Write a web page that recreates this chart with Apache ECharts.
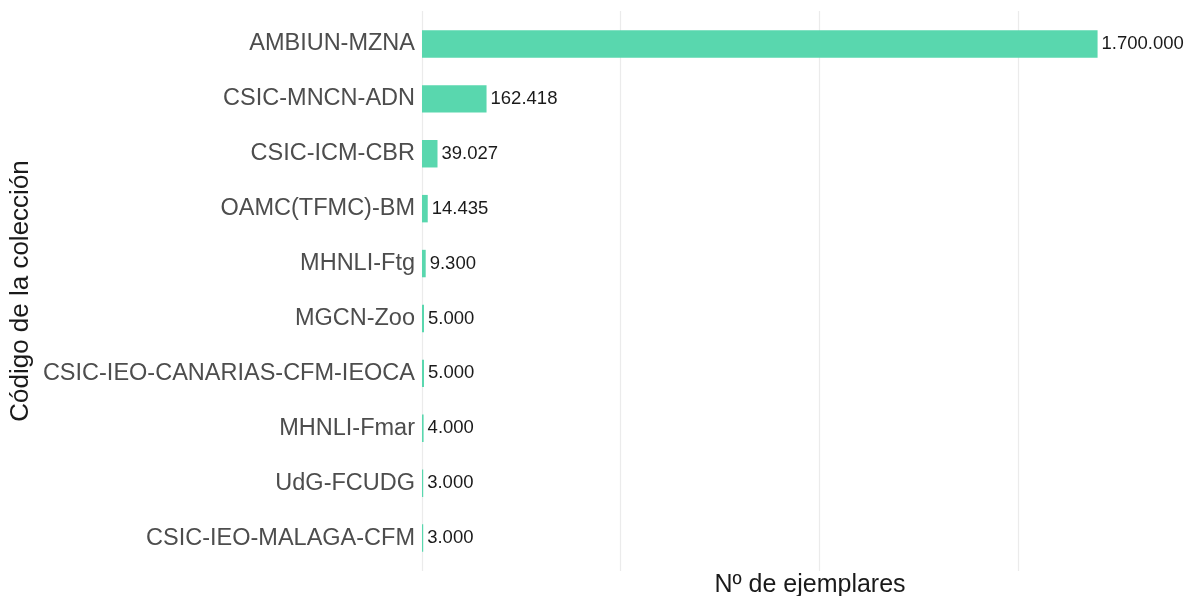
<!DOCTYPE html>
<html>
<head>
<meta charset="utf-8">
<script src="https://cdn.jsdelivr.net/npm/echarts@6/dist/echarts.min.js"></script>
<style>
html,body{margin:0;padding:0;background:#fff;}
#chart{width:1188px;height:596px;}
</style>
</head>
<body>
<div id="chart"></div>
<script>
const categories = ["AMBIUN-MZNA","CSIC-MNCN-ADN","CSIC-ICM-CBR","OAMC(TFMC)-BM","MHNLI-Ftg","MGCN-Zoo","CSIC-IEO-CANARIAS-CFM-IEOCA","MHNLI-Fmar","UdG-FCUDG","CSIC-IEO-MALAGA-CFM"];
const values = [1700000,162418,39027,14435,9300,5000,5000,4000,3000,3000];
const xTickInterval = 500000;
const xMax = 1952700;
const xTitle = "Nº de ejemplares";
const yTitle = "Código de la colección";

function fmt(v){ return String(v).replace(/\B(?=(\d{3})+(?!\d))/g, "."); }

const FONT = "'Liberation Sans', Arial, Helvetica, sans-serif";
const chart = echarts.init(document.getElementById('chart'), null, {renderer:'canvas'});
chart.setOption({
  animation:false,
  backgroundColor:'#ffffff',
  grid:[
    {left:422, width:776, top:11, bottom:25, containLabel:false, outerBoundsMode:'none'},
    {left:422, width:776, top:16.5, bottom:30.5, containLabel:false, outerBoundsMode:'none'}
  ],
  xAxis:[
    {gridIndex:0, type:'value', min:0, max:xMax, interval:xTickInterval,
     axisLine:{show:false}, axisTick:{show:false}, axisLabel:{show:false},
     splitLine:{show:true, lineStyle:{color:'#EBEBEB', width:1.2}},
     name:xTitle, nameLocation:'middle', nameGap:2, nameMoveOverlap:false,
     nameTextStyle:{fontFamily:FONT, fontSize:25, color:'#1a1a1a', verticalAlign:'top'}},
    {gridIndex:1, type:'value', min:0, max:xMax, interval:xTickInterval,
     axisLine:{show:false}, axisTick:{show:false}, axisLabel:{show:false},
     splitLine:{show:false}}
  ],
  yAxis:[
    {gridIndex:0, type:'category', data:categories, inverse:true, show:false},
    {gridIndex:1, type:'category', data:categories, inverse:true,
     axisLine:{show:false}, axisTick:{show:false}, splitLine:{show:false},
     axisLabel:{fontFamily:FONT, fontSize:23.5, color:'#4D4D4D', margin:7},
     name:yTitle, nameLocation:'middle', nameGap:388, nameRotate:90, nameMoveOverlap:false,
     nameTextStyle:{fontFamily:FONT, fontSize:26, color:'#1a1a1a'}}
  ],
  series:[{
    type:'bar', xAxisIndex:1, yAxisIndex:1, data:values, barWidth:'50%',
    itemStyle:{color:'#59D7AE'},
    label:{show:true, position:'right', distance:4, formatter:p=>fmt(p.value),
      fontFamily:FONT, fontSize:18.5, color:'#1a1a1a'}
  }]
});
</script>
</body>
</html>
